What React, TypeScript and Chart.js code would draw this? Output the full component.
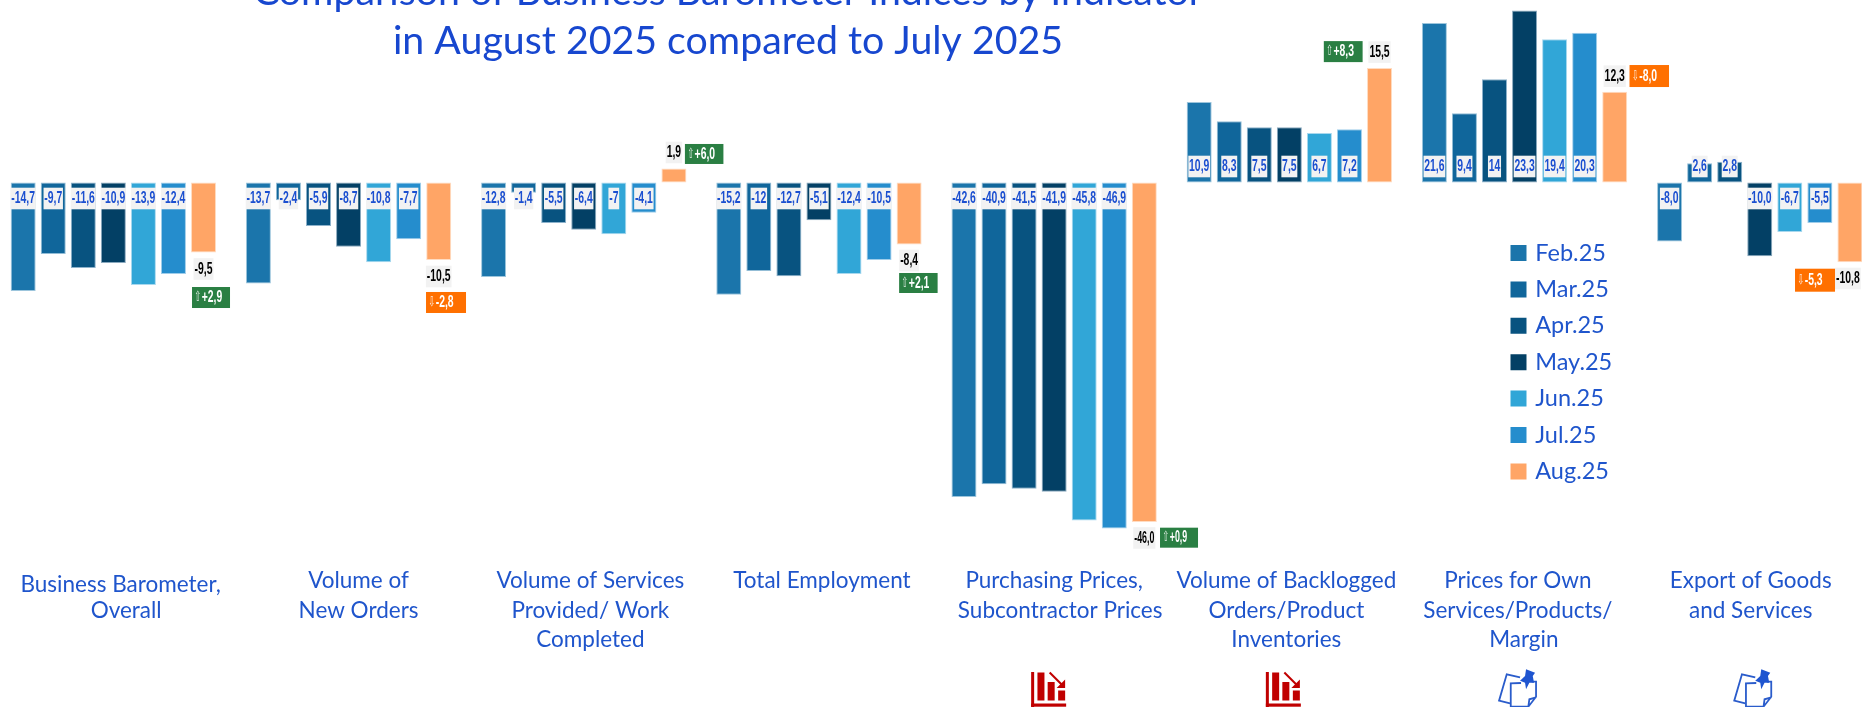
import React, { useEffect, useRef } from "react";
import { Chart, registerables } from "chart.js";

Chart.register(...registerables);

// Survey indicators, one group of bars each
const indicators = [
  ["Business Barometer,", "Overall"],
  ["Volume of", "New Orders"],
  ["Volume of Services", "Provided/ Work", "Completed"],
  ["Total Employment"],
  ["Purchasing Prices,", "Subcontractor Prices"],
  ["Volume of Backlogged", "Orders/Product", "Inventories"],
  ["Prices for Own", "Services/Products/", "Margin"],
  ["Export of Goods", "and Services"],
];

const months = ["Feb.25", "Mar.25", "Apr.25", "May.25", "Jun.25", "Jul.25", "Aug.25"];

const feb25 = [-14.7, -13.7, -12.8, -15.2, -42.6, 10.9, 21.6, -8.0];
const mar25 = [-9.7, -2.4, -1.4, -12, -40.9, 8.3, 9.4, 2.6];
const apr25 = [-11.6, -5.9, -5.5, -12.7, -41.5, 7.5, 14, 2.8];
const may25 = [-10.9, -8.7, -6.4, -5.1, -41.9, 7.5, 23.3, -10.0];
const jun25 = [-13.9, -10.8, -7, -12.4, -45.8, 6.7, 19.4, -6.7];
const jul25 = [-12.4, -7.7, -4.1, -10.5, -46.9, 7.2, 20.3, -5.5];
const aug25 = [-9.5, -10.5, 1.9, -8.4, -46.0, 15.5, 12.3, -10.8];

// Month-on-month change shown beside each August value
const changes = [2.9, -2.8, 6.0, 2.1, 0.9, 8.3, -8.0, -5.3];

const series = [feb25, mar25, apr25, may25, jun25, jul25, aug25];

const title = ["Comparison of Business Barometer Indices by Indicator", "in August 2025 compared to July 2025"];

const fills = ["#1B75AB", "#10669B", "#085380", "#034065", "#31A6D7", "#258DCD", "#FFA566"];
const edges = ["#9CC5DC", "#93BDD6", "#8DB2CB", "#8AA9BE", "#A8D8EE", "#9FCDEA", "#FFDCC2"];

const TAG_FACE = '"Liberation Sans", sans-serif';
const TAG_SQUEEZE = 0.63;

// The canvas overhangs the visible frame so that clipped marks and text run past its edges
const OX = 20;
const OY = 40;
const CANVAS_W = 1900;
const CANVAS_H = 760;

// Placement of the August callouts relative to the tip of each August bar
const valueOffsets = [
  [0, 16.4], [0, 16.5], [0, -16], [0, 16], [0, 16], [0, -16], [0, -15.5], [-2, 16.3],
];
const badgeOffsets = [
  [-11.5, 34.4, 38, 21], [-12.7, 32, 40, 21], [11, -24.5, 38.5, 20], [-10, 28.5, 38.5, 20],
  [15.7, 5.7, 38, 20], [-55.7, -27, 38.8, 21], [14.8, -26.7, 39.5, 22], [-54.9, 6.5, 40, 23],
];
// The crowded purchasing-price callouts use slightly tighter text
const calloutFit = [1, 1, 1, 1, 0.85, 1, 1, 1];

// Horizontal shift of each indicator name from the centre of its group, per line where lines differ
const nameShift = [
  [7.3, 12.8],
  [10, 10],
  [6.6, 6.6, 6.6],
  [3],
  [0, 6],
  [-3, -3, -3],
  [-6.7, -6.7, -0.7],
  [-9, -9],
];
const nameRows = [
  [584.5, 611.2],
  [580.5, 611, 640],
  [580.5, 611, 640],
  [580.5],
  [580.5, 611],
  [580.5, 611, 640],
  [580.5, 611, 640],
  [580.5, 611],
];
const icons = [null, null, null, null, "down", "down", "note", "note"];
const iconShift = [0, 0, 0, 0, -23, -23.5, -25.5, -25.5];

const decimal = (v: number) => v.toFixed(1).replace(".", ",");
const plain = (v: number, group: number) => (group === 7 ? decimal(v) : String(v).replace(".", ","));

function narrowText(ctx: any, text: string, x: number, y: number, font: string, color: string, squeeze: number, align = "center") {
  ctx.save();
  ctx.font = font;
  ctx.fillStyle = color;
  ctx.textAlign = align;
  ctx.textBaseline = "middle";
  ctx.translate(x, y);
  ctx.scale(squeeze, 1);
  ctx.fillText(text, 0, 0);
  ctx.restore();
}

function textWidth(ctx: any, text: string, font: string, squeeze: number) {
  ctx.save();
  ctx.font = font;
  const w = ctx.measureText(text).width * squeeze;
  ctx.restore();
  return w;
}

function drawDownIcon(ctx: any, x: number, y: number) {
  ctx.save();
  ctx.translate(x, y);
  ctx.fillStyle = "#C00000";
  ctx.strokeStyle = "#C00000";
  ctx.fillRect(0, 0, 3, 35);
  ctx.fillRect(0, 31.5, 35, 3.2);
  ctx.fillRect(6.3, 0.5, 7, 28);
  ctx.fillRect(16.5, 10, 7, 18.5);
  ctx.fillRect(27, 18.5, 7, 10);
  ctx.lineWidth = 2;
  ctx.beginPath();
  ctx.moveTo(18.5, 0.5);
  ctx.lineTo(32, 14);
  ctx.stroke();
  ctx.beginPath();
  ctx.moveTo(34, 16);
  ctx.lineTo(34, 7.5);
  ctx.lineTo(25.5, 16);
  ctx.closePath();
  ctx.fill();
  ctx.restore();
}

function drawNoteIcon(ctx: any, x: number, y: number) {
  ctx.save();
  ctx.translate(x, y);
  ctx.strokeStyle = "#2A5CCB";
  ctx.fillStyle = "#1F55D0";
  ctx.lineWidth = 1.8;
  // sheet behind
  ctx.beginPath();
  ctx.moveTo(11, 33.3);
  ctx.lineTo(0, 30.7);
  ctx.lineTo(7.7, 4.3);
  ctx.lineTo(21, 7.3);
  ctx.stroke();
  // front sheet with its folded corner
  ctx.beginPath();
  ctx.moveTo(22, 13);
  ctx.lineTo(11.7, 13.3);
  ctx.lineTo(11.7, 36.7);
  ctx.lineTo(29.3, 36.7);
  ctx.lineTo(37, 26.7);
  ctx.lineTo(37, 11.7);
  ctx.lineTo(32.7, 11.7);
  ctx.moveTo(29.3, 36.7);
  ctx.lineTo(30.3, 29.3);
  ctx.lineTo(37, 27.3);
  ctx.stroke();
  // push-pin
  ctx.beginPath();
  ctx.moveTo(27, -0.7);
  ctx.lineTo(36, 2.7);
  ctx.lineTo(33.7, 6);
  ctx.lineTo(35, 12.7);
  ctx.lineTo(30.3, 12.7);
  ctx.lineTo(27, 19.3);
  ctx.lineTo(26, 12.7);
  ctx.lineTo(21, 10.7);
  ctx.lineTo(26, 6);
  ctx.closePath();
  ctx.fill();
  ctx.restore();
}

const reportOverlay = {
  id: "reportOverlay",
  afterLayout(chart: any) {
    // Seat the legend in the empty space of the plot
    const legend = chart.legend;
    const pad = legend.options.labels.padding;
    legend.left = 1513.5 + OX - pad;
    legend.right = legend.left + 200;
    legend.top = 241.25 + OY - pad;
    legend.bottom = legend.top + 320;
  },
  afterDatasetsDraw(chart: any) {
    const { ctx } = chart;
    const valueFont = `bold 16.5px ${TAG_FACE}`;

    // Value tags sitting at a fixed distance from the zero line
    const zero = chart.scales.y.getPixelForValue(0);
    series.slice(0, 6).forEach((values, s) => {
      const meta = chart.getDatasetMeta(s);
      values.forEach((v, g) => {
        const text = plain(v, g);
        const w = textWidth(ctx, text, valueFont, TAG_SQUEEZE) + 1.5;
        const cx = meta.data[g].x;
        const cy = v < 0 ? zero + 16 : zero - 16;
        ctx.fillStyle = "#F2F2F2";
        ctx.fillRect(cx - w / 2, cy - 10.8, w, 21.6);
        narrowText(ctx, text, cx, cy, valueFont, "#1B4FD0", TAG_SQUEEZE);
      });
    });

    // August value and change callouts
    const augMeta = chart.getDatasetMeta(6);
    aug25.forEach((v, g) => {
      const bar = augMeta.data[g];
      const [vx, vy] = valueOffsets[g];
      const text = decimal(v);
      const squeeze = TAG_SQUEEZE * calloutFit[g];
      const w = textWidth(ctx, text, valueFont, squeeze) + 2;
      ctx.fillStyle = "#F2F2F2";
      ctx.fillRect(bar.x + vx - w / 2, bar.y + vy - 10.8, w, 21.6);
      narrowText(ctx, text, bar.x + vx, bar.y + vy, valueFont, "#000000", squeeze);

      const [bx, by, bw, bh] = badgeOffsets[g];
      const change = changes[g];
      const mid = bar.y + by + bh / 2;
      ctx.fillStyle = change >= 0 ? "#2A7F43" : "#FF7000";
      ctx.fillRect(bar.x + bx, bar.y + by, bw, bh);
      narrowText(ctx, change >= 0 ? "\u21E7" : "\u21E9", bar.x + bx + 2.5, mid, '14px "DejaVu Sans", sans-serif', "rgba(255,255,255,0.85)", 0.55, "left");
      narrowText(ctx, `${change >= 0 ? "+" : ""}${decimal(change)}`, bar.x + bx + 9.7, mid, valueFont, "#FFFFFF", squeeze, "left");
    });

    // Indicator names and their marker icons
    const xScale = chart.scales.x;
    ctx.save();
    ctx.font = '22.5px Lato, sans-serif';
    ctx.fillStyle = "#1F55CC";
    ctx.textAlign = "center";
    ctx.textBaseline = "middle";
    indicators.forEach((lines, g) => {
      const cx = xScale.getPixelForTick(g);
      lines.forEach((line, i) => ctx.fillText(line, cx + nameShift[g][i], nameRows[g][i] + OY));
      const icon = icons[g];
      if (icon === "down") drawDownIcon(ctx, cx + iconShift[g], 672 + OY);
      if (icon === "note") drawNoteIcon(ctx, cx + iconShift[g], 670 + OY);
    });
    ctx.restore();

    // Report heading; its first line runs off the top of the frame
    ctx.save();
    ctx.font = '39.3px Lato, sans-serif';
    ctx.fillStyle = "#1747CF";
    ctx.textAlign = "center";
    ctx.textBaseline = "alphabetic";
    title.forEach((line, i) => ctx.fillText(line, 728 + OX, 5 + OY + i * 49));
    ctx.restore();
  },
};

export default function App() {
  const canvasRef = useRef<HTMLCanvasElement>(null);

  useEffect(() => {
    const chart = new Chart(canvasRef.current as HTMLCanvasElement, {
      type: "bar",
      plugins: [reportOverlay],
      data: {
        labels: indicators,
        datasets: series.map((values, i) => ({
          label: months[i],
          data: values,
          backgroundColor: fills[i],
          borderColor: edges[i],
          borderWidth: 1,
          borderSkipped: false,
          categoryPercentage: 0.8945,
          barPercentage: 0.832,
        })),
      },
      options: {
        responsive: false,
        animation: false,
        layout: { padding: { left: 15.75, right: 2.65, top: 15.86, bottom: 94.7 } },
        scales: {
          x: { display: false, grid: { display: false } },
          y: { display: false, min: -60, max: 28, grid: { display: false } },
        },
        plugins: {
          title: { display: false },
          tooltip: { enabled: false },
          legend: {
            display: true,
            position: "chartArea",
            align: "start",
            labels: {
              color: "#1F55CC",
              font: { family: "Lato, sans-serif", size: 23.5 },
              boxWidth: 10,
              boxHeight: 10,
              padding: 12.9,
              generateLabels: (c: any) =>
                c.data.datasets.map((d: any, i: number) => ({
                  text: d.label,
                  fillStyle: fills[i],
                  strokeStyle: fills[i],
                  lineWidth: 6,
                  fontColor: "#1F55CC",
                  datasetIndex: i,
                })),
            },
          },
        },
      },
    } as any);
    return () => chart.destroy();
  }, []);

  return (
    <div style={{ position: "fixed", left: 0, top: 0, width: 1862, height: 707, overflow: "hidden", background: "#fff" }}>
      <canvas
        ref={canvasRef}
        width={CANVAS_W}
        height={CANVAS_H}
        style={{ position: "absolute", left: -OX, top: -OY, width: CANVAS_W, height: CANVAS_H }}
      />
    </div>
  );
}
